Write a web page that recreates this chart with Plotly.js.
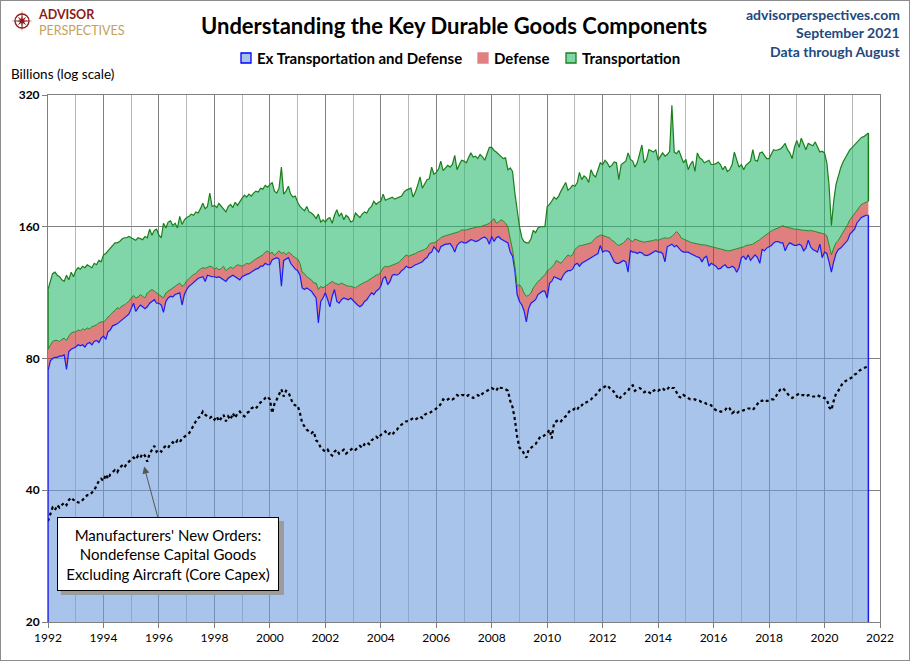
<!DOCTYPE html>
<html>
<head>
<meta charset="utf-8">
<script src="https://cdn.plot.ly/plotly-3.0.1.min.js"></script>
<style>
  body { margin: 0; background: #fff; }
  #chart { width: 908px; height: 659px; border: 1px solid #8c8c8c; }
</style>
</head>
<body>
<div id="chart"></div>
<script>
// monthly values, Jan 1992 .. Aug 2021, billions of dollars
const startYear = 1992;

// top of the blue area: orders ex transportation and defense
const exTransDefense = [
  75, 79, 80, 80.5, 80.5, 81, 81, 81.5, 75.5, 83, 84, 84.5,
  85, 86, 85.5, 86, 85, 86.5, 87, 86, 87.5, 88, 87, 89,
  90, 88.5, 92, 93, 95, 95.5, 96, 97, 98, 98.5, 100, 101,
  104, 107, 102.5, 104, 106, 105, 104, 105, 107, 108, 109, 107,
  107, 106, 102, 108, 110, 111, 110.5, 112, 112.5, 113, 106, 112,
  115, 117, 118, 119.5, 121, 122, 122.5, 123, 120, 124, 123.5, 123,
  123, 122.5, 123, 122, 121, 120, 122, 123, 124, 123, 122, 121,
  123, 124, 124.5, 125, 126, 127, 128, 128.5, 130, 130, 132, 131,
  131, 134.5, 135, 136, 135, 117, 134, 135, 136, 132, 130, 128,
  127, 124, 116, 115, 116, 115, 114, 112, 110, 96.5, 108, 110,
  113, 109, 105, 111, 115, 108, 107, 109, 110, 109.5, 109, 110,
  108.5, 107, 106, 105, 106, 108, 109, 111, 113, 112, 114, 115,
  117, 122, 123, 118, 120, 124, 124.5, 124, 125, 127, 128, 130,
  129, 129, 130, 131, 131.5, 132, 133, 135, 136, 139, 140, 144,
  142, 140, 144, 145, 146, 146, 146.5, 144, 140, 145, 147, 148,
  147, 147, 148, 149.5, 149, 148, 148.5, 150, 151, 151.5, 150, 146,
  152, 148, 151, 152, 150, 149, 148, 147, 140, 137, 127, 112,
  108, 106, 103, 97, 104, 107, 108, 109, 112, 113, 114, 114,
  110, 119, 120, 123, 122.5, 122, 121, 124, 126, 127, 127, 128,
  131, 132, 130, 132, 133, 134.5, 135, 136, 137, 138, 139, 145,
  140, 141, 141, 140, 137, 133, 132, 132, 133, 134, 133, 126,
  141, 140, 140, 139, 140, 139.5, 138, 137.5, 138, 139, 140, 141,
  140, 140, 139, 133, 144, 145, 146, 144, 145, 143, 141, 140,
  140, 140, 139, 138, 137.5, 136.5, 136, 133, 136, 137, 130, 132,
  131, 130, 128, 128.5, 130, 131, 129, 129, 130, 129, 126, 129,
  136, 137, 134.5, 138, 134, 136, 138, 136, 132, 142, 141, 143,
  144, 145, 147, 148, 148, 147, 147, 141, 145, 147, 146, 145,
  145, 146, 145, 141, 143, 149, 144, 142, 141, 140, 146, 136,
  140, 139, 133, 126, 133, 139, 142, 143, 145, 147, 149, 154,
  156, 158, 163, 166, 168, 169, 170, 170
];

// top of the red area: orders ex transportation (incl. defense)
const exTransport = [
  84, 86, 87.5, 88, 88, 87.5, 88.5, 89, 88, 90, 91.5, 92,
  92, 93, 92.5, 93.5, 93, 94, 93.5, 94.5, 95, 95.5, 96.5, 97,
  97, 98, 99.5, 100.5, 102, 103, 104.5, 104, 105.5, 106, 107, 108,
  110, 111.5, 110, 110.5, 112, 111, 110, 113, 114, 115, 114, 113,
  112, 111, 110, 113, 114, 115, 116, 117, 118, 119, 117, 118,
  120.5, 122, 123, 124.5, 125, 127, 128, 129, 128.5, 129, 130, 129.5,
  128, 129, 127.5, 128.5, 130, 127, 128, 129.5, 128.5, 130, 131, 130.5,
  130, 131, 132, 131.5, 133, 134, 135, 136, 137, 138, 140, 141,
  139, 140, 137.5, 139, 141, 139, 140, 138, 140, 139, 137, 136,
  135, 132, 126, 125, 123, 122, 121, 119, 119, 115, 117, 116,
  117, 118, 119, 120, 119, 118.5, 118, 119, 118, 117.5, 117, 117,
  116.5, 116, 117, 118, 119, 119.5, 120, 121, 122, 123.5, 124, 124.5,
  126, 129, 130, 129.5, 130, 131, 131, 132, 133, 134.5, 136, 138,
  137, 137.5, 138, 139, 140, 140.5, 141, 142, 143, 146, 147, 147,
  148, 150, 151, 152, 152.5, 153, 154, 154, 154.5, 155, 156, 157.5,
  157, 157.5, 158, 158, 159, 159.5, 160, 160, 160.5, 161, 162, 163,
  165, 167, 163, 164, 166, 165, 163, 160, 150, 142, 130, 117,
  118, 116, 113, 111, 111.5, 113, 116, 118, 120, 121, 123, 124,
  127, 128, 129.5, 131, 134, 133, 132, 134, 136, 138, 137, 138,
  142, 144, 145, 145, 145.5, 146, 146.5, 147, 149, 151, 152, 153,
  153, 152, 151.5, 151, 149, 148, 146, 145, 146, 147, 149, 151,
  149, 148, 150, 149, 148.5, 148, 147.5, 148, 148, 148.5, 149, 149.5,
  149, 150, 150.5, 151, 150.5, 151, 152, 154, 156, 154, 151, 150,
  149, 148, 147.5, 147, 146.5, 146.5, 146, 145.5, 145.5, 145, 144.5, 144,
  143.5, 143, 142.5, 142, 142, 141.5, 141, 141, 141.5, 142, 142, 143,
  143.5, 144, 145, 145, 145.5, 146, 147, 148, 149.5, 151, 152.5, 154,
  155, 156.5, 157.5, 158, 159, 160, 161, 160, 159.5, 159, 158, 158,
  158, 157.5, 157.5, 157, 157, 156.5, 157, 156.5, 156, 156, 155.5, 155,
  154, 152.5, 146, 138, 143, 147, 149, 152, 155, 158, 162, 166,
  169, 172, 175, 178, 180, 181, 182, 183
];

// top of the green area: total durable goods orders
const totalOrders = [
  115, 121, 125, 126, 124, 123, 121, 120, 124, 121, 126, 123,
  127, 129, 128, 130, 129, 131, 130, 129, 132, 131, 134, 133,
  138, 139, 141, 143, 145, 147, 147, 148, 150, 151, 151, 152,
  151, 150, 149, 151, 150, 149.5, 152, 151, 158, 153, 157, 158,
  153, 151, 163, 159, 164, 165, 161, 163, 159, 169, 162, 166,
  168, 169, 171, 170, 173, 172, 176, 181, 176, 178, 191, 178,
  179, 177, 181, 178, 176, 173, 178, 180, 177, 182, 179, 183,
  186, 189, 187, 190, 188, 191, 193, 192, 196, 195, 199, 197,
  199, 202, 193, 191, 196, 219, 190, 193, 198, 190, 187, 188,
  182, 178, 176, 174, 178, 173, 172, 170, 167, 171, 164, 166,
  164, 167, 168, 163, 170, 175, 169, 172, 166, 170, 168, 164,
  165, 172, 170, 168, 171, 173, 172, 176, 178, 183, 180, 182,
  183, 190, 184, 185, 186, 187, 185, 186, 187, 188, 192, 194,
  195, 196, 187, 192, 199, 208, 196, 201, 205, 206, 219, 211,
  213, 217, 226, 215, 218, 221, 219, 222, 233, 216, 222, 227,
  226, 224, 230, 236, 231, 232, 229, 234, 231, 227, 235, 243,
  243, 239, 237, 234, 232, 229, 230, 216, 218, 214, 191, 175,
  160, 151, 148, 147, 147, 150, 157, 155, 159, 160, 160, 160,
  178, 180, 183, 187, 185, 188, 193, 197, 202, 194, 196, 199,
  198, 202, 213, 205, 209, 207, 202, 216, 210, 208, 217, 224,
  222, 227, 224, 219, 221, 225, 224, 205, 222, 224, 226, 236,
  228, 226, 219, 224, 236, 246, 224, 228, 240, 238, 237, 240,
  227, 232, 236, 232, 234, 238, 303, 237, 235, 239, 232, 224,
  228, 216, 222, 226, 214, 236, 230, 228, 224, 226, 227, 222,
  222, 223, 225, 222, 216, 220, 214, 216, 222, 237, 226, 219,
  222, 216, 221, 224, 226, 240, 227, 226, 236, 237, 233, 229,
  229, 235, 240, 239, 240, 241, 244, 248, 240, 236, 229, 243,
  252, 243, 255, 246, 240, 248, 246, 245, 250, 244, 237, 238,
  236, 224, 199, 161, 183, 200, 210, 218, 225, 230, 234, 240,
  243, 246, 249, 253, 256, 257, 259, 262
];

// nondefense capital goods excluding aircraft (core capex)
const coreCapex = [
  34, 35.5, 36.5, 36, 37, 36.5, 37, 37.5, 37, 38, 38.5, 38,
  38, 37.5, 37.5, 38, 38.5, 39, 39, 39.5, 40, 41, 42, 42.5,
  42, 43.5, 42.5, 43.5, 44, 44.5, 44, 45, 45.5, 45, 46, 46.5,
  47, 47.5, 47, 48, 47.5, 48.5, 48, 46.5, 48.5, 49.5, 50.5, 49,
  49.5, 49, 50, 50.5, 50, 51, 51.5, 51, 52, 51.5, 52.5, 53,
  53.5, 54, 55, 56.5, 57.5, 58.5, 59, 60.5, 59.5, 59, 58.5, 59,
  58, 59, 57.5, 58.5, 59.5, 57.5, 59, 58, 60, 58.5, 60, 60.5,
  59.5, 59, 60, 60.5, 61.5, 62, 61.5, 62.5, 63.5, 64, 65, 65.5,
  64.5, 60, 63, 64.5, 66, 68, 65.5, 67.5, 67, 65, 63, 62.5,
  62.5, 60, 57, 56, 55, 54.5, 54, 54.5, 52, 51.5, 50, 49.5,
  49, 49.5, 48.5, 48, 49, 49.5, 48.5, 49, 49.5, 48.5, 49, 49.5,
  50, 49.5, 50, 50.5, 50, 51, 51.5, 51, 52, 52.5, 53, 52.5,
  53.5, 54, 54.5, 53.5, 54, 53.5, 54.5, 55, 56, 56.5, 57, 57.5,
  57.5, 58, 58.5, 58, 58.5, 59, 58.5, 59.5, 60, 60, 60.5, 61,
  61.5, 62, 63, 64.5, 64, 64.5, 65, 64.5, 65, 66, 65.5, 66,
  66, 65.5, 66, 65.5, 65, 65.5, 66, 65.5, 66.5, 67, 67.5, 68,
  68.5, 68, 67.5, 69, 68.5, 68.5, 68, 67.5, 64, 62, 58, 53,
  50, 49.5, 48.5, 47.5, 49.5, 50, 50.5, 51, 52, 53, 53, 53.5,
  54, 55, 52.5, 57, 57.5, 58, 57.5, 58.5, 59, 60, 61, 61,
  61.5, 61, 62.5, 62.5, 63.5, 63.5, 64, 64.5, 65.5, 66, 67, 68,
  68.5, 69, 69.5, 68.5, 68, 67, 65.5, 64.5, 65.5, 66, 67, 67.5,
  69, 69.5, 67.5, 68, 68.5, 68, 67, 67.5, 67, 66.5, 67.5, 68,
  67.5, 68, 68.5, 67.5, 68, 69, 68.5, 68.5, 67, 65.5, 65, 66,
  65.5, 65, 64.5, 64.5, 64.5, 64, 64, 63.5, 63.5, 63, 63, 62.5,
  61.5, 61, 61, 60.5, 60.5, 61, 62, 61.5, 60, 60.5, 60, 60.5,
  60.5, 61, 61, 61.5, 61.5, 61, 62, 63, 64, 64, 64.5, 64,
  64, 64.5, 64.5, 65.5, 67, 68, 68.5, 67.5, 66.5, 65.5, 65, 65.5,
  66, 66.5, 66, 66, 65.5, 66, 66, 65.5, 65.5, 66, 65.5, 65,
  65, 64.5, 62, 61, 64, 66.5, 67.5, 69, 70.5, 71, 71.5, 72,
  72.5, 73.5, 74, 75, 75.5, 76, 76.5, 77
];

const yTicks = [20, 40, 80, 160, 320];
const legendNames = ["Ex Transportation and Defense", "Defense", "Transportation"];

// month labels for the x axis
const months = exTransDefense.map(function (_, i) {
    var y = startYear + Math.floor(i / 12);
    var m = (i % 12) + 1;
    return y + "-" + (m < 10 ? "0" + m : m) + "-01";
});

// page geometry, so text can be placed in pixels
const W = 908, H = 659;
const M = { l: 47, r: 29, t: 94, b: 38 };
const pw = W - M.l - M.r, ph = H - M.t - M.b;
function paperX(x) { return (x - 1 - M.l) / pw; }
function paperY(y) { return 1 - (y - 1 - M.t) / ph; }

const FONT = "Lato, 'Open Sans', sans-serif";
const blueLine = "#1c1cf0", greenLine = "#1a7f1a";

var traces = [
    {
        x: months, y: exTransDefense, mode: "lines", fill: "tozeroy",
        fillcolor: "rgba(112,157,220,0.6)", line: { color: blueLine, width: 1.2 }
    },
    {
        x: months, y: exTransport, mode: "lines", fill: "tonexty",
        fillcolor: "rgba(203,42,42,0.6)", line: { color: "#2a8a2a", width: 1 }
    },
    {
        x: months, y: totalOrders, mode: "lines", fill: "tonexty",
        fillcolor: "rgba(43,187,110,0.6)", line: { color: greenLine, width: 1.2 }
    },
    {
        x: months, y: coreCapex, mode: "lines",
        line: { color: "#000", width: 2.2, dash: "dot" }
    }
];

var first = months[0], last = months[months.length - 1];
var n = months.length - 1;
var shapes = [
    // area outlines at both ends
    { type: "line", xref: "x", yref: "y", x0: first, x1: first, y0: 20, y1: exTransDefense[0], line: { color: blueLine, width: 1.5 } },
    { type: "line", xref: "x", yref: "y", x0: last, x1: last, y0: 20, y1: exTransDefense[n], line: { color: blueLine, width: 1.5 } },
    { type: "line", xref: "x", yref: "y", x0: first, x1: first, y0: exTransport[0], y1: totalOrders[0], line: { color: greenLine, width: 1.5 } },
    { type: "line", xref: "x", yref: "y", x0: last, x1: last, y0: exTransport[n], y1: totalOrders[n], line: { color: greenLine, width: 1.5 } },
    // shadow behind the note box
    {
        type: "rect", xref: "paper", yref: "paper",
        x0: paperX(61), x1: paperX(284), y0: paperY(595), y1: paperY(521),
        fillcolor: "#9c9c9c", line: { width: 0 }, layer: "above"
    }
];

// legend swatches (drawn by hand to sit like the original)
var swatches = [
    { x: 241, fill: "#a9c4ea", edge: "#0000ff" },
    { x: 478, fill: "#e08080", edge: "#e08080" },
    { x: 566, fill: "#80d6a8", edge: greenLine }
];
var legendTextX = [255, 492, 580];
swatches.forEach(function (s) {
    shapes.push({
        type: "rect", xref: "paper", yref: "paper",
        x0: paperX(s.x), x1: paperX(s.x + 10), y0: paperY(63), y1: paperY(53),
        fillcolor: s.fill, line: { color: s.edge, width: 1.3 }
    });
});

// logo: compass star in a ring
(function () {
    var cx = 22, cy = 21, pts = [];
    for (var k = 0; k < 16; k++) {
        var a = -Math.PI / 2 + k * Math.PI / 8;
        var r = (k % 4 === 0) ? 11 : (k % 2 === 0 ? 6 : 2.2);
        pts.push([cx + r * Math.cos(a), cy + r * Math.sin(a)]);
    }
    var path = pts.map(function (p, i) {
        return (i ? "L" : "M") + paperX(p[0]).toFixed(5) + "," + paperY(p[1]).toFixed(5);
    }).join(" ") + " Z";
    shapes.push({ type: "path", xref: "paper", yref: "paper", path: path, fillcolor: "#8b1c1c", line: { width: 0 } });
    shapes.push({
        type: "circle", xref: "paper", yref: "paper",
        x0: paperX(cx - 7), x1: paperX(cx + 7), y0: paperY(cy + 7), y1: paperY(cy - 7),
        line: { color: "#8b1c1c", width: 1.3 }
    });
})();

var boxText = "Manufacturers' New Orders:<br>Nondefense Capital Goods<br>Excluding Aircraft (Core Capex)";
var tipX = "1995-06-20", tipY = Math.log10(45.3);

function label(text, x, y, anchor, font) {
    return {
        text: text, xref: "paper", yref: "paper", x: paperX(x), y: paperY(y),
        xanchor: anchor, yanchor: "middle", showarrow: false, font: font
    };
}

var blueFont = { family: FONT, size: 14, color: "#1f497d", weight: "bold" };
var logoText = "<span style='color:#8b1c1c;font-weight:bold'>ADVISOR</span><br>" +
    "<span style='color:#c4a15a'>PERSPECTIVES</span>";
var logo = label(logoText, 37, 22.5, "left", { family: FONT, size: 12.5, color: "#8b1c1c" });
logo.align = "left";
logo.borderpad = 0;

var annotations = [
    label("Understanding the Key Durable Goods Components", 454, 25, "center",
        { family: FONT, size: 22, color: "#000", weight: "bold" }),
    label("advisorperspectives.com", 902, 15, "right", blueFont),
    label("September 2021", 902, 33, "right", blueFont),
    label("Data through August", 902, 51, "right", blueFont),
    label("Billions (log scale)", 9, 74, "left", { family: FONT, size: 13.5, color: "#000" }),
    logo,
    {
        text: boxText, xref: "x", yref: "y", x: tipX, y: tipY, ax: 23.5, ay: 87,
        showarrow: true, arrowhead: 2, arrowsize: 1.4, arrowwidth: 1, arrowcolor: "#555",
        width: 214, height: 66, align: "center",
        bgcolor: "#fff", bordercolor: "#000", borderwidth: 1, borderpad: 3,
        font: { family: FONT, size: 15, color: "#000" }
    }
];
legendNames.forEach(function (name, i) {
    annotations.push(label(name, legendTextX[i], 58, "left",
        { family: FONT, size: 15, color: "#000", weight: "bold" }));
});

var layout = {
    width: W, height: H,
    margin: M,
    paper_bgcolor: "#fff", plot_bgcolor: "#fff",
    font: { family: FONT, color: "#000" },
    hovermode: false,
    showlegend: false,
    xaxis: {
        type: "date",
        range: ["1992-01-01", "2022-01-01"],
        tick0: "1992-01-01", dtick: "M24", tickformat: "%Y",
        ticks: "outside", ticklen: 5, tickcolor: "#808080",
        tickfont: { family: FONT, size: 12, color: "#000" },
        showgrid: true, gridcolor: "#808080", gridwidth: 1,
        minor: { dtick: "M12", tick0: "1993-01-01", showgrid: true, gridcolor: "#b8b8b8", gridwidth: 1 },
        showline: true, linecolor: "#808080", mirror: true,
        zeroline: false, fixedrange: true
    },
    yaxis: {
        type: "log",
        range: [Math.log10(yTicks[0]), Math.log10(yTicks[yTicks.length - 1])],
        tickvals: yTicks, ticktext: yTicks.map(String),
        ticks: "outside", ticklen: 5, tickcolor: "#808080",
        tickfont: { family: FONT, size: 12, color: "#000", weight: "bold" },
        showgrid: true, gridcolor: "#808080", gridwidth: 1,
        showline: true, linecolor: "#808080", mirror: true,
        zeroline: false, fixedrange: true
    },
    shapes: shapes,
    annotations: annotations
};

Plotly.newPlot("chart", traces, layout, { displayModeBar: false, responsive: false });
</script>
</body>
</html>
